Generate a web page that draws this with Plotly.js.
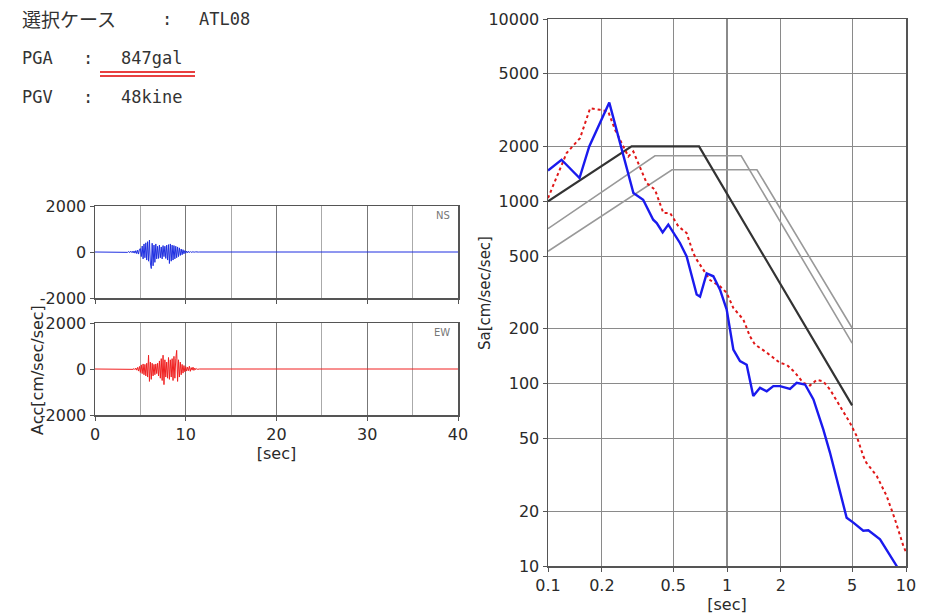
<!DOCTYPE html>
<html>
<head>
<meta charset="utf-8">
<script src="https://cdn.plot.ly/plotly-3.0.1.min.js"></script>
<style>html,body{margin:0;padding:0;background:#fff;}#chart{width:926px;height:615px;}</style>
</head>
<body>
<div id="chart"></div>
<script>
// ---- Header info ----
const caseLabel = "選択ケース";
const caseName = "ATL08";
const pgaText = "847gal";
const pgvText = "48kine";

// ---- Acceleration time histories (sec, cm/sec/sec) ----
const waveTime = [0,3.5,3.6,3.7,3.8,3.9,4.0,4.1,4.2,4.3,4.4,4.5,4.6,4.7,4.8,4.9,
  5.0,5.1,5.2,5.3,5.4,5.5,5.6,5.7,5.8,5.9,6.0,6.1,6.2,6.3,6.4,6.5,6.6,6.7,6.8,6.9,
  7.0,7.1,7.2,7.3,7.4,7.5,7.6,7.7,7.8,7.9,8.0,8.1,8.2,8.3,8.4,8.5,8.6,8.7,8.8,8.9,
  9.0,9.1,9.2,9.3,9.4,9.5,9.6,9.7,9.8,9.9,10.0,10.1,10.2,10.3,10.4,10.5,10.6,10.7,10.8,10.9,
  11.0,11.1,11.2,11.3,11.4,11.5,40];
const accNS = [0,10,-15,20,-25,30,-20,35,-40,45,-50,60,-70,80,-90,120,
  150,-200,260,-300,350,-250,400,-350,450,-400,
  520,-480,-720,380,-600,300,-450,350,-300,250,
  -280,300,-250,220,-300,280,-200,250,-280,300,
  -350,320,-500,350,-400,300,-350,280,-300,250,
  -250,220,-200,180,-150,130,-120,100,-80,60,
  -50,40,-35,30,-25,20,-20,15,-12,10,
  -10,8,-6,5,-4,0,0];
const accEW = [0,5,-5,8,-8,10,-10,12,-15,20,-25,40,-50,70,-90,110,
  -150,180,-200,220,-250,200,-300,250,-350,600,
  -540,300,-450,250,-300,200,-250,220,-200,250,
  -300,350,-400,450,-500,600,-680,400,-350,300,
  -400,500,-450,400,-350,450,-500,550,-400,450,
  810,-540,400,-350,300,-250,200,-180,150,-120,
  100,-90,80,-70,120,-100,60,-50,80,-60,
  40,-30,20,-15,10,0,0];

// ---- Response spectra (period sec, Sa cm/sec/sec) ----
const periodNS = [0.1,0.119,0.15,0.17,0.22,0.2525,0.30,0.34,0.387,0.405,0.437,0.47,0.546,0.595,0.621,0.677,0.707,0.77,0.839,0.914,0.996,1.085,1.182,1.288,1.402,1.529,1.667,1.815,1.977,2.249,2.45,2.73,3.04,3.45,3.76,4.10,4.66,5.08,5.77,6.16,7.16,8.87,10];
const saNS = [1476,1690,1342,2000,3480,2085,1110,1020,793,760,676,745,591,499,422,308,300,402,388,328,255,154,133,127,85.5,94.9,90.9,96.9,97,93.7,101,99,81.9,56.1,41.9,29.9,18.4,17.3,15.6,15.7,14.0,10,8];
const periodEW = [0.1,0.112,0.127,0.151,0.172,0.195,0.217,0.237,0.264,0.281,0.2997,0.326,0.356,0.396,0.441,0.481,0.535,0.595,0.648,0.677,0.77,0.804,0.914,0.996,1.085,1.233,1.343,1.432,1.667,1.977,2.157,2.40,2.67,2.91,3.17,3.45,3.76,4.28,4.86,5.30,5.77,6.0,6.86,7.80,8.68,9.66,10];
const saEW = [1042,1368,1839,2222,3243,3177,3105,2466,2000,1762,1876,1553,1259,1158,863,863,729,670,520,479,390,370,342,315,260,225,182,164,148,130,127,115,101,97.7,105,103,92.9,75.3,61.1,51.6,40.1,36.9,31.2,24.2,18.0,12.9,11.9];
// design spectra
const designPeriod = [0.1,0.293,0.698,5];
const designSa = [1000,2000,2000,76];
const refPeriodA = [0.1,0.396,1.2,5];
const refSaA = [708,1778,1778,167];
const refPeriodB = [0.1,0.493,1.47,5];
const refSaB = [532,1490,1490,202];

const specTicks = [0.1,0.2,0.5,1,2,5,10];
const specTickText = ["0.1","0.2","0.5","1","2","5","10"];
const saTicks = [10,20,50,100,200,500,1000,2000,5000,10000];
const saTickText = ["10","20","50","100","200","500","1000","2000","5000","10000"];
const accTicks = [-2000,0,2000];
const accTickText = ["-2000","0","2000"];
const timeTicks = [0,10,20,30,40];

// ---- layout helpers (pixel -> paper) ----
const W = 926, H = 615;
const px = x => x / W;
const py = y => 1 - y / H;

const tickFont = {family: "DejaVu Sans, Liberation Sans, sans-serif", size: 16, color: "#2a2a2a"};
const frameCol = "#555";

const traces = [
  {x: waveTime, y: accNS, xaxis: "x", yaxis: "y", type: "scatter", mode: "lines",
   line: {color: "#1f2fe0", width: 1}},
  {x: waveTime, y: accEW, xaxis: "x2", yaxis: "y2", type: "scatter", mode: "lines",
   line: {color: "#f02020", width: 1}},
  {x: refPeriodA, y: refSaA, xaxis: "x3", yaxis: "y3", type: "scatter", mode: "lines",
   line: {color: "#999", width: 1.6}},
  {x: refPeriodB, y: refSaB, xaxis: "x3", yaxis: "y3", type: "scatter", mode: "lines",
   line: {color: "#999", width: 1.6}},
  {x: designPeriod, y: designSa, xaxis: "x3", yaxis: "y3", type: "scatter", mode: "lines",
   line: {color: "#333", width: 2.2}},
  {x: periodEW, y: saEW, xaxis: "x3", yaxis: "y3", type: "scatter", mode: "lines",
   line: {color: "#e01818", width: 2, dash: "dot"}},
  {x: periodNS, y: saNS, xaxis: "x3", yaxis: "y3", type: "scatter", mode: "lines",
   line: {color: "#1a1aee", width: 2.4}}
];

function timeAxis() {
  return {
    domain: [px(95), px(458)], range: [0, 40], tickvals: timeTicks,
    tickfont: tickFont,
    ticks: "outside", ticklen: 4, tickcolor: frameCol,
    showgrid: true, gridcolor: "#777", gridwidth: 1,
    minor: {dtick: 5, tick0: 0, showgrid: true, gridcolor: "#aaa", gridwidth: 1, ticks: ""},
    showline: true, linecolor: frameCol, linewidth: 1.5, mirror: true, zeroline: false,
    fixedrange: true
  };
}
function accAxis(y0, y1) {
  return {
    domain: [py(y1), py(y0)], range: [-2000, 2000], tickvals: accTicks, ticktext: accTickText,
    tickfont: tickFont, ticks: "outside", ticklen: 4, tickcolor: frameCol,
    showgrid: false, zeroline: false,
    showline: true, linecolor: frameCol, linewidth: 1.5, mirror: true, fixedrange: true
  };
}

const layout = {
  width: W, height: H,
  margin: {l: 0, r: 0, t: 0, b: 0},
  paper_bgcolor: "#fff", plot_bgcolor: "#fff",
  showlegend: false, hovermode: false,
  xaxis: Object.assign(timeAxis(), {anchor: "y", showticklabels: false}),
  yaxis: Object.assign(accAxis(206, 298), {anchor: "x"}),
  xaxis2: Object.assign(timeAxis(), {anchor: "y2", showticklabels: true,
    title: {text: "[sec]", font: tickFont, standoff: 1}}),
  yaxis2: Object.assign(accAxis(323, 415), {anchor: "x2"}),
  xaxis3: {
    anchor: "y3", domain: [px(548), px(906)], type: "log", range: [-1, 1],
    tickvals: specTicks, ticktext: specTickText, tickfont: tickFont,
    ticks: "outside", ticklen: 4, tickcolor: frameCol,
    showgrid: true, gridcolor: "#8a8a8a", gridwidth: 1.2,
    showline: true, linecolor: frameCol, linewidth: 1.5, mirror: true, zeroline: false,
    title: {text: "[sec]", font: tickFont, standoff: 1}, fixedrange: true
  },
  yaxis3: {
    anchor: "x3", domain: [py(566), py(19)], type: "log", range: [1, 4],
    tickvals: saTicks, ticktext: saTickText, tickfont: tickFont,
    ticks: "outside", ticklen: 4, tickcolor: frameCol,
    showgrid: true, gridcolor: "#8a8a8a", gridwidth: 1.2,
    showline: true, linecolor: frameCol, linewidth: 1.5, mirror: true, zeroline: false,
    fixedrange: true
  },
  annotations: [
    {text: caseLabel, x: px(20), y: py(19), xref: "paper", yref: "paper", xanchor: "left", yanchor: "middle",
     showarrow: false, font: {family: "Noto Sans CJK JP", size: 19, color: "#333"}},
    {text: ":", x: px(160), y: py(19), xref: "paper", yref: "paper", xanchor: "left", yanchor: "middle",
     showarrow: false, font: {family: "DejaVu Sans Mono", size: 17, color: "#333"}},
    {text: caseName, x: px(197), y: py(19), xref: "paper", yref: "paper", xanchor: "left", yanchor: "middle",
     showarrow: false, font: {family: "DejaVu Sans Mono", size: 17, color: "#333"}},
    {text: "PGA", x: px(20), y: py(58), xref: "paper", yref: "paper", xanchor: "left", yanchor: "middle",
     showarrow: false, font: {family: "DejaVu Sans Mono", size: 17, color: "#333"}},
    {text: ":", x: px(81), y: py(58), xref: "paper", yref: "paper", xanchor: "left", yanchor: "middle",
     showarrow: false, font: {family: "DejaVu Sans Mono", size: 17, color: "#333"}},
    {text: pgaText, x: px(119), y: py(58), xref: "paper", yref: "paper", xanchor: "left", yanchor: "middle",
     showarrow: false, font: {family: "DejaVu Sans Mono", size: 17, color: "#333"}},
    {text: "PGV", x: px(20), y: py(97), xref: "paper", yref: "paper", xanchor: "left", yanchor: "middle",
     showarrow: false, font: {family: "DejaVu Sans Mono", size: 17, color: "#333"}},
    {text: ":", x: px(81), y: py(97), xref: "paper", yref: "paper", xanchor: "left", yanchor: "middle",
     showarrow: false, font: {family: "DejaVu Sans Mono", size: 17, color: "#333"}},
    {text: pgvText, x: px(119), y: py(97), xref: "paper", yref: "paper", xanchor: "left", yanchor: "middle",
     showarrow: false, font: {family: "DejaVu Sans Mono", size: 17, color: "#333"}},
    {text: "NS", x: px(452), y: py(215), xref: "paper", yref: "paper", xanchor: "right", yanchor: "middle",
     showarrow: false, font: {family: "DejaVu Sans", size: 10, color: "#777"}},
    {text: "EW", x: px(452), y: py(332), xref: "paper", yref: "paper", xanchor: "right", yanchor: "middle",
     showarrow: false, font: {family: "DejaVu Sans", size: 10, color: "#777"}},
    {text: "Acc[cm/sec/sec]", x: px(37), y: py(370), xref: "paper", yref: "paper", xanchor: "center", yanchor: "middle",
     textangle: -90, showarrow: false, font: {family: "DejaVu Sans", size: 16, color: "#2a2a2a"}},
    {text: "Sa[cm/sec/sec]", x: px(485), y: py(293), xref: "paper", yref: "paper", xanchor: "center", yanchor: "middle",
     textangle: -90, showarrow: false, font: {family: "DejaVu Sans", size: 15, color: "#2a2a2a"}}
  ],
  shapes: [
    {type: "line", xref: "paper", yref: "paper", x0: px(100), x1: px(195), y0: py(72), y1: py(72),
     line: {color: "#e00000", width: 1.5}},
    {type: "line", xref: "paper", yref: "paper", x0: px(100), x1: px(195), y0: py(76), y1: py(76),
     line: {color: "#e00000", width: 1.5}}
  ]
};

Plotly.newPlot("chart", traces, layout, {staticPlot: true, displayModeBar: false});
</script>
</body>
</html>
